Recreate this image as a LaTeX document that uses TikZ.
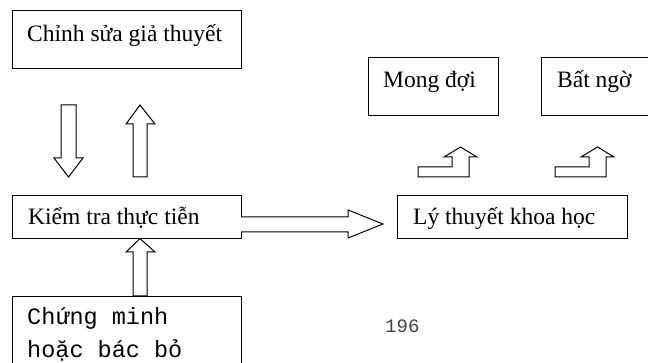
\documentclass[tikz,border=0pt]{standalone}
\usepackage{fontspec}
\setmainfont{Liberation Serif}
\setmonofont{Liberation Mono}
\begin{document}
\begin{tikzpicture}[x=1pt,y=-1pt,
  box/.style={draw,line width=1.2pt,rectangle,inner sep=0pt,anchor=north west},
  lbl/.style={anchor=base west,inner sep=0pt,font=\fontsize{23.5}{28}\selectfont},
  mlbl/.style={anchor=base west,inner sep=0pt,font=\ttfamily\fontsize{23.5}{28}\selectfont},
  blk/.style={draw,line width=1pt,fill=white,line join=miter}]
\useasboundingbox (0,0) rectangle (648,363);
\clip (0,0) rectangle (648,363);
% boxes
\node[box,minimum width=229pt,minimum height=58pt] (cs) at (12,10) {};
\node[lbl] (cst) at (27,42) {Chỉnh sửa giả thuyết};
\node[box,minimum width=229pt,minimum height=43pt] (kt) at (12,195) {};
\node[lbl] (ktt) at (28,225) {Kiểm tra thực tiễn};
\node[box,minimum width=229pt,minimum height=100pt] (cm) at (12,296) {};
\node[mlbl] (cm1) at (27,325) {Chứng minh};
\node[mlbl] (cm2) at (27,357) {hoặc bác bỏ};
\node[box,minimum width=130pt,minimum height=58pt] (md) at (368,57) {};
\node[lbl] (mdt) at (383,88) {Mong đợi};
\node[box,minimum width=130pt,minimum height=58pt] (bn) at (541,57) {};
\node[lbl] (bnt) at (557,88) {Bất ngờ};
\node[box,minimum width=230pt,minimum height=43pt] (lt) at (397,195) {};
\node[lbl] (ltt) at (413,225) {Lý thuyết khoa học};
% block arrows
\draw[blk] (61,105) -- (76,105) -- (76,158) -- (83,158) -- (68.5,177) -- (54,158) -- (61,158) -- cycle;
\draw[blk] (133,177) -- (147,177) -- (147,124) -- (155,124) -- (140,105) -- (126,124) -- (133,124) -- cycle;
\draw[blk] (133,296) -- (147,296) -- (147,252) -- (155,252) -- (140,238.6) -- (126,252) -- (133,252) -- cycle;
\draw[blk] (241,217) -- (348,217) -- (348,210) -- (383,224) -- (348,238) -- (348,232) -- (241,232);
\foreach \dx in {0,137}{
  \draw[blk,xshift=\dx pt] (418,177) -- (469,177) -- (469,157) -- (477,157) -- (460.5,147) -- (444,157) -- (452,157) -- (452,167) -- (418,167) -- cycle;
}
\node[anchor=base west,inner sep=0pt,font=\ttfamily\fontsize{19}{22}\selectfont,text=black!75] (pg) at (385,333) {196};
\end{tikzpicture}
\end{document}
